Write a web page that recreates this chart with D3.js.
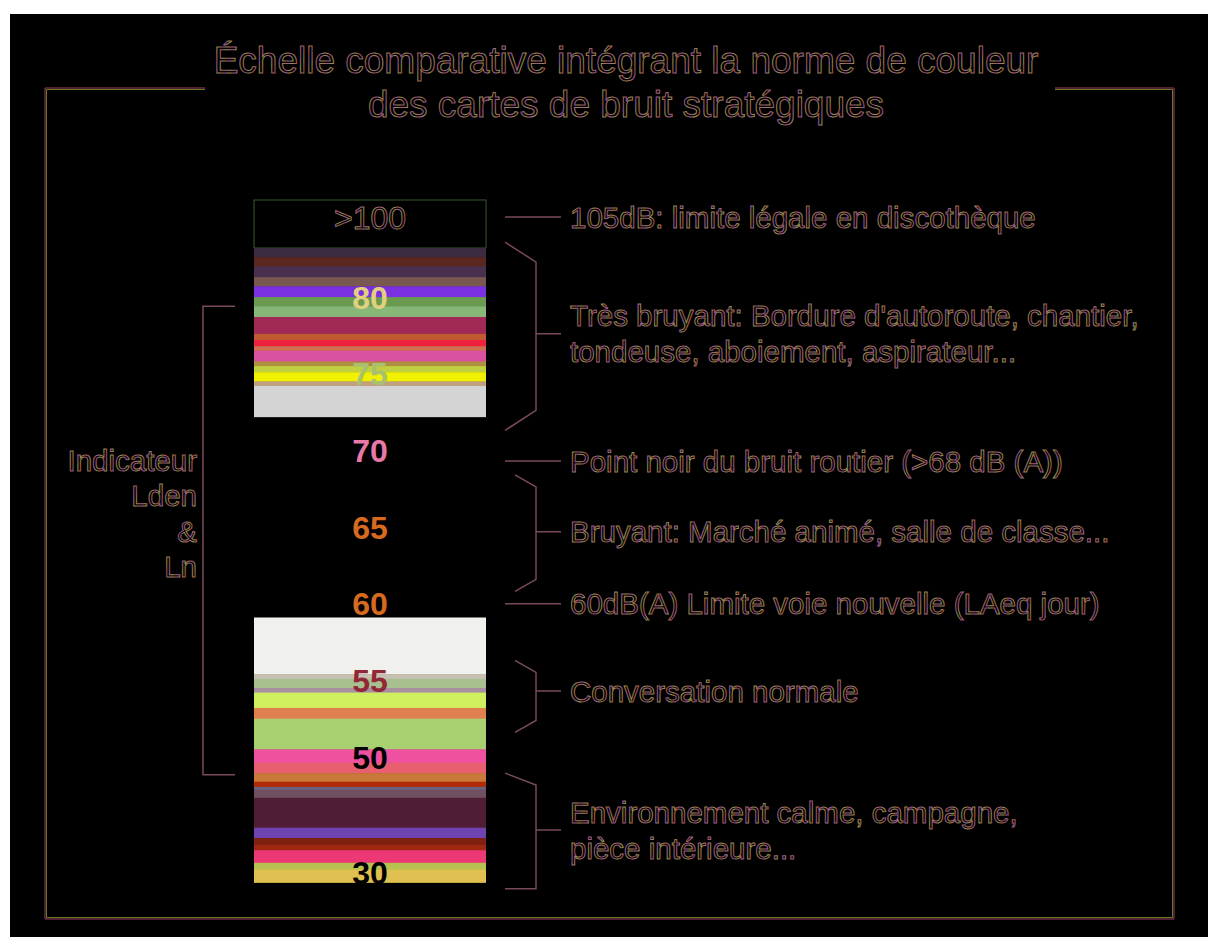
<!DOCTYPE html>
<meta charset="utf-8">
<style type="text/css">
body { margin: 0; background: #fff; }
svg { font-family: "Liberation Sans", Arial, sans-serif; display: block; }
.outline { fill: #000; stroke: url(#edge); stroke-width: 1; }
.bracket { fill: none; stroke: #7a4a5a; stroke-width: 1.5; }
</style>
<body>
<script src="https://cdn.jsdelivr.net/npm/d3@7"></script>
<script>
var width = 1208,
    height = 937;

// title lines
var titleLines = ['Échelle comparative intégrant la norme de couleur',
                  'des cartes de bruit stratégiques'];

// colour bands of the upper part (dB edges, top to bottom)
var upperEdges = [83.2, 82.6, 82.0, 81.3, 80.7, 80.0, 79.4, 78.7, 77.6, 77.2, 76.8, 76.5, 75.8, 75.5, 75.1, 74.5, 74.2, 72.2];
var upperColors = ['#3b2b40', '#5a2820', '#4a3050', '#785850', '#7a30e0', '#6a9a50', '#88b878', '#a02a55', '#c05a30',
                   '#f02040', '#d07050', '#d850a0', '#b09040', '#c0d040', '#f0f000', '#c0a080', '#d4d4d4'];

// colour bands of the lower part
var lowerEdges = [59.1, 55.4, 55.1, 54.5, 54.2, 53.2, 52.5, 50.5, 49.0, 47.2, 45.7, 44.8, 44.3, 42.9, 37.7, 35.9, 34.7, 33.8, 31.6, 30.4, 28.2];
var lowerColors = ['#f0f0ec', '#c8c0b0', '#a8c090', '#a890a0', '#d0f060', '#e08050', '#a8d070', '#f050a0', '#e86070', '#c87838',
                   '#b02a08', '#6a6080', '#6e5060', '#501c36', '#6e44b0', '#802010', '#a02810', '#ec3874', '#b8c050', '#e0c050'];

// level labels on the bar
var levelLabels = ['>100', '80', '75', '70', '65', '60', '55', '50', '30'];
var levelValues = [100, 80, 75, 70, 65, 60, 55, 50, 30];
var levelColors = [null, '#e0d080', '#a8c070', '#e878a8', '#d86a20', '#d86a20', '#902838', '#000', '#000'];

// single line notes: level and text
var noteLevels = [100.5, 69.3, 60];
var noteTexts = ['105dB: limite légale en discothèque',
                 'Point noir du bruit routier (>68 dB (A))',
                 '60dB(A) Limite voie nouvelle (LAeq jour)'];

// bracket notes: top, bottom, tick level, text lines
var bracketTops = [86.5, 68.4, 56.3, 47.2];
var bracketBottoms = [71.3, 60.8, 51.6, 27.1];
var bracketTicks = [77.6, 64.7, 54.3, 37.3];
var bracketTexts = [['Très bruyant: Bordure d\'autoroute, chantier,', 'tondeuse, aboiement, aspirateur...'],
                    ['Bruyant: Marché animé, salle de classe...'],
                    ['Conversation normale'],
                    ['Environnement calme, campagne,', 'pièce intérieure...']];

// Lden & Ln range
var indicatorRange = [79.4, 46.9];
var indicatorLines = ['Indicateur', 'Lden', '&', 'Ln'];

var y = d3.scaleLinear()
    .domain([110, 83.2, 50, 28])
    .range([200, 248, 757, 883.5]);

var barLeft = 254, barRight = 486, barMid = (barLeft + barRight) / 2;

var svg = d3.select('body').append('svg')
    .attr('width', width)
    .attr('height', height);

// multi-coloured edge look of the outlined text
var grad = svg.append('defs').append('linearGradient')
    .attr('id', 'edge')
    .attr('gradientUnits', 'userSpaceOnUse')
    .attr('x1', 0).attr('x2', 9).attr('y1', 0).attr('y2', 3)
    .attr('spreadMethod', 'repeat');
['#b05a8a', '#8a9a4a', '#b85a4a', '#7a60c0'].forEach(function(c, i) {
  grad.append('stop').attr('offset', i / 3).attr('stop-color', c);
});

svg.append('rect')
    .attr('x', 10).attr('y', 14)
    .attr('width', width - 10).attr('height', height - 14)
    .attr('fill', '#000');

// frame with a gap for the title
function framePath(o) {
  return 'M205,' + (88 + o) + 'H' + (45 + o) + 'V' + (919 - o) + 'H' + (1174 - o) + 'V' + (88 + o) + 'H1055';
}
svg.append('path').attr('d', framePath(0)).attr('fill', 'none').attr('stroke', '#a0406a').attr('stroke-width', 1);
svg.append('path').attr('d', framePath(1.5)).attr('fill', 'none').attr('stroke', '#6a7a20').attr('stroke-width', 1);

svg.selectAll('.title')
    .data(titleLines)
  .enter().append('text')
    .attr('class', 'title outline')
    .attr('x', 626)
    .attr('y', function(d, i) { return 73 + i * 44; })
    .attr('text-anchor', 'middle')
    .attr('font-size', 37)
    .text(function(d) { return d; });

// top black box
svg.append('rect')
    .attr('x', barLeft).attr('y', y(110))
    .attr('width', barRight - barLeft).attr('height', y(83.2) - y(110))
    .attr('fill', '#000')
    .attr('stroke', '#3a5a2a');

function drawBands(edges, colors) {
  svg.append('g').selectAll('rect')
      .data(colors)
    .enter().append('rect')
      .attr('x', barLeft)
      .attr('width', barRight - barLeft)
      .attr('y', function(d, i) { return y(edges[i]); })
      .attr('height', function(d, i) { return y(edges[i + 1]) - y(edges[i]) + 0.5; })
      .attr('fill', function(d) { return d; });
}
drawBands(upperEdges, upperColors);
drawBands(lowerEdges, lowerColors);

// level labels
svg.selectAll('.level')
    .data(levelLabels)
  .enter().append('text')
    .attr('class', function(d, i) { return levelColors[i] ? 'level' : 'level outline'; })
    .attr('x', barMid)
    .attr('y', function(d, i) { return y(levelValues[i]); })
    .attr('dy', '0.36em')
    .attr('text-anchor', 'middle')
    .attr('font-size', 32)
    .attr('font-weight', function(d, i) { return levelColors[i] ? 'bold' : 'normal'; })
    .attr('fill', function(d, i) { return levelColors[i]; })
    .text(function(d) { return d; });

var noteX = 570;

// single line notes
noteLevels.forEach(function(v, i) {
  svg.append('line')
      .attr('class', 'bracket')
      .attr('x1', 505).attr('x2', 561)
      .attr('y1', y(v)).attr('y2', y(v));
  svg.append('text')
      .attr('class', 'outline')
      .attr('x', noteX).attr('y', y(v))
      .attr('dy', '0.36em')
      .attr('font-size', 29.5)
      .text(noteTexts[i]);
});

// bracket notes
bracketTops.forEach(function(top, i) {
  var y0 = y(top), y1 = y(bracketBottoms[i]), yt = y(bracketTicks[i]);
  var xs = (i === 0 || i === 3) ? 505 : 515, xv = 536;
  var dTop = i === 0 ? 20 : 12;
  var path = 'M' + xs + ',' + y0 + 'L' + xv + ',' + (y0 + dTop) + 'L' + xv + ',' + (i === 3 ? y1 : y1 - dTop) +
      'L' + xs + ',' + y1 + 'M' + xv + ',' + yt + 'H561';
  svg.append('path').attr('class', 'bracket').attr('d', path);
  var lines = bracketTexts[i];
  lines.forEach(function(t, j) {
    svg.append('text')
        .attr('class', 'outline')
        .attr('x', noteX)
        .attr('y', yt + (j - (lines.length > 1 ? 0.5 : 0)) * 36)
        .attr('dy', '0.36em')
        .attr('font-size', 29.5)
        .text(t);
  });
});

// Lden & Ln bracket
var iy0 = y(indicatorRange[0]), iy1 = y(indicatorRange[1]);
svg.append('path')
    .attr('class', 'bracket')
    .attr('stroke', '#8a3a6a')
    .attr('d', 'M235,' + iy0 + 'H203V' + iy1 + 'H235');

svg.selectAll('.indic')
    .data(indicatorLines)
  .enter().append('text')
    .attr('class', 'indic outline')
    .attr('x', 197)
    .attr('y', function(d, i) { return 460 + i * 35.5; })
    .attr('dy', '0.36em')
    .attr('text-anchor', 'end')
    .attr('font-size', 29.5)
    .text(function(d) { return d; });
</script>
</body>
